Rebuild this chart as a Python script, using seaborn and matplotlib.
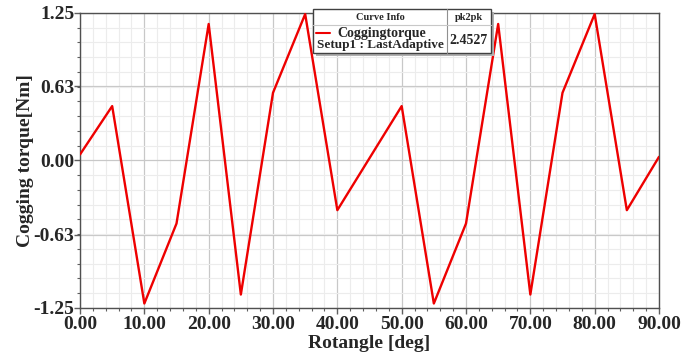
import matplotlib
matplotlib.use("Agg")
import matplotlib.pyplot as plt
from matplotlib.ticker import MultipleLocator, FixedLocator, FormatStrFormatter
from matplotlib.patches import Rectangle
import numpy as np
import pandas as pd
import seaborn as sns

# Cogging torque sampled every 5 degrees of rotor angle
rotangle = [0, 5, 10, 15, 20, 25, 30, 35, 40, 45,
            50, 55, 60, 65, 70, 75, 80, 85, 90]
torque = [0.051, 0.461, -1.212, -0.534, 1.157, -1.136, 0.574, 1.2407, -0.421, 0.02,
          0.461, -1.212, -0.534, 1.157, -1.136, 0.574, 1.2407, -0.421, 0.031]
curve_name = "Coggingtorque"
setup_name = "Setup1 : LastAdaptive"
y_ticks = [-1.25, -0.63, 0.00, 0.63, 1.25]
x_label = "Rotangle [deg]"
y_label = "Cogging torque[Nm]"

df = pd.DataFrame({"angle": rotangle, "torque": torque})
pk2pk = max(torque) - min(torque)

sns.set_theme(style="white")
plt.rcParams["font.family"] = ["Liberation Serif", "DejaVu Serif"]
plt.rcParams["font.weight"] = "bold"

fig = plt.figure(figsize=(6.81, 3.58), dpi=100)
ax = fig.add_axes([0.1175, 0.1397, 0.8502, 0.824])

sns.lineplot(data=df, x="angle", y="torque", ax=ax, color="#ee0000",
             linewidth=1.7, zorder=5)

ax.set_xlim(0, 90)
ax.set_ylim(-1.25, 1.25)
ax.xaxis.set_major_locator(MultipleLocator(10))
ax.xaxis.set_minor_locator(MultipleLocator(2))
ax.yaxis.set_major_locator(FixedLocator(y_ticks))
ax.yaxis.set_minor_locator(MultipleLocator(0.125))
ax.xaxis.set_major_formatter(FormatStrFormatter("%.2f"))
ax.yaxis.set_major_formatter(FormatStrFormatter("%.2f"))

ax.grid(which="major", color="#c8c8c8", linewidth=0.9)
ax.grid(which="minor", color="#ececec", linewidth=0.8)
ax.set_axisbelow(True)

ax.tick_params(which="major", direction="out", length=4, width=1, color="#606060",
               labelsize=14, pad=0, bottom=True, left=True)
ax.tick_params(axis="x", which="major", pad=2)
ax.tick_params(which="minor", direction="out", length=2.5, width=0.8, color="#606060",
               bottom=True, left=True)
for lab in ax.get_xticklabels() + ax.get_yticklabels():
    lab.set_fontweight("bold")

for s in ax.spines.values():
    s.set_color("#505050")
    s.set_linewidth(1.0)

ax.set_xlabel(x_label, fontsize=14, fontweight="bold", labelpad=1)
ax.set_ylabel(y_label, fontsize=14, fontweight="bold", labelpad=0)

# Curve info table with drop shadow
def fx(px):
    return px / 681
def fy(py):
    return 1 - py / 358

bx0, by0, bx1, by1 = 313, 9, 491, 53
fig.patches.append(Rectangle((fx(bx0 + 3), fy(by1 + 3)), fx(bx1 - bx0), fy(by0) - fy(by1),
                             transform=fig.transFigure, facecolor="#b0b0b0",
                             edgecolor="none", zorder=9))
fig.patches.append(Rectangle((fx(bx0), fy(by1)), fx(bx1 - bx0), fy(by0) - fy(by1),
                             transform=fig.transFigure, facecolor="white",
                             edgecolor="#404040", linewidth=1.0, zorder=10))
fig.lines.append(plt.Line2D([fx(447), fx(447)], [fy(by0), fy(by1)],
                            transform=fig.transFigure, color="#909090", lw=0.8, zorder=11))
fig.lines.append(plt.Line2D([fx(bx0), fx(bx1)], [fy(25), fy(25)],
                            transform=fig.transFigure, color="#c8c8c8", lw=0.8, zorder=11))
fig.text(fx(380), fy(17), "Curve Info", fontsize=7.5, fontweight="bold",
         ha="center", va="center", zorder=12)
fig.text(fx(469), fy(17), "pk2pk", fontsize=7.5, fontweight="bold",
         ha="center", va="center", zorder=12)
fig.lines.append(plt.Line2D([fx(316), fx(330)], [fy(33), fy(33)],
                            transform=fig.transFigure, color="#ee0000", lw=1.5, zorder=12))
fig.text(fx(382), fy(33), curve_name, fontsize=10, fontweight="bold",
         ha="center", va="center", zorder=12)
fig.text(fx(380), fy(45), setup_name, fontsize=9.5, fontweight="bold",
         ha="center", va="center", zorder=12)
fig.text(fx(469), fy(40), f"{pk2pk:.4f}", fontsize=10, fontweight="bold",
         ha="center", va="center", zorder=12)

fig.savefig("out.png", dpi=100)
